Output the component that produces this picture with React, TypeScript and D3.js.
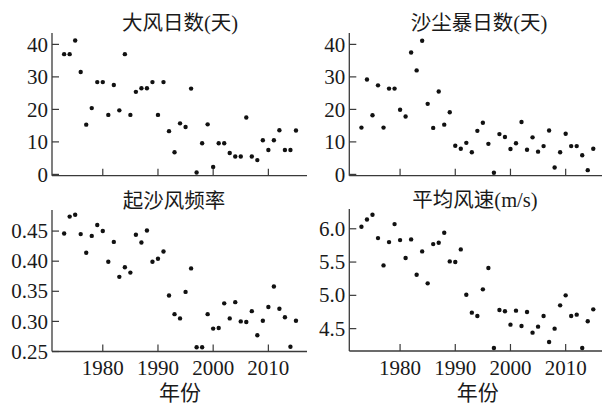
import React from "react";
import * as d3 from "d3";

const years: number[] = d3.range(1973, 2016);

const galeDays: number[] = [
  37, 37, 41.2, 31.5, 15.3, 20.4, 28.4, 28.4, 18.3, 27.5, 19.7, 37, 18.3, 25.4, 26.5, 26.5, 28.4, 18.3, 28.4, 13.3,
  6.8, 15.7, 14.6, 26.4, 0.6, 9.6, 15.4, 2.3, 9.6, 9.6, 6.6, 5.5, 5.5, 17.5, 5.5, 4.4, 10.5, 7.5, 10.5, 13.6,
  7.5, 7.5, 13.5,
];

const dustStormDays: number[] = [
  14.4, 29.2, 18.2, 27.4, 14.4, 26.4, 26.4, 19.9, 17.8, 37.5, 32, 41.1, 21.7, 14.3, 25.5, 15.3, 19.1, 8.8, 7.9, 9.7,
  6.8, 13.4, 15.9, 9.4, 0.5, 12.4, 11.5, 7.8, 9.6, 16.1, 7.6, 11.4, 7, 8.7, 13.5, 2.1, 6.8, 12.5, 8.7, 8.7,
  5.9, 1.3, 7.9,
];

const sandWindFreq: number[] = [
  0.446, 0.474, 0.477, 0.445, 0.414, 0.442, 0.46, 0.45, 0.399, 0.432, 0.374, 0.39, 0.381, 0.444, 0.431, 0.451,
  0.399, 0.404, 0.416, 0.343, 0.312, 0.305, 0.349, 0.388, 0.257, 0.257, 0.312, 0.288, 0.289, 0.33, 0.305, 0.332,
  0.3, 0.299, 0.317, 0.277, 0.301, 0.324, 0.358, 0.321, 0.307, 0.258, 0.301,
];

const meanWindSpeed: number[] = [
  6.03, 6.14, 6.21, 5.86, 5.45, 5.8, 6.07, 5.83, 5.56, 5.84, 5.31, 5.66, 5.18, 5.77, 5.79, 5.94, 5.51, 5.5, 5.69,
  5.01, 4.74, 4.69, 5.09, 5.41, 4.21, 4.78, 4.76, 4.56, 4.77, 4.54, 4.75, 4.44, 4.53, 4.69, 4.3, 4.5, 4.85, 5.0,
  4.69, 4.71, 4.21, 4.61, 4.79,
];

const xTicks: number[] = [1980, 1990, 2000, 2010];
const daysTicks: number[] = [0, 10, 20, 30, 40];
const freqTicks: number[] = [0.25, 0.3, 0.35, 0.4, 0.45];
const speedTicks: number[] = [4.5, 5.0, 5.5, 6.0];

const titles: string[] = ["大风日数(天)", "沙尘暴日数(天)", "起沙风频率", "平均风速(m/s)"];
const xAxisTitle = "年份";

const FONT = "'Liberation Serif', 'Times New Roman', 'Noto Sans CJK SC', serif";
const AXIS = "#3a3a3a";
const TEXT = "#1a1a1a";

type Panel = {
  title: string;
  values: number[];
  ticks: number[];
  fmt: (v: number) => string;
  ox: number;
  y: d3.ScaleLinear<number, number>;
  top: number;
  bottom: number;
  titleX: number;
  titleY: number;
  showX: boolean;
};

export default function App() {
  const x = d3.scaleLinear().domain([1970.8, 2017]).range([52, 307]);
  const RIGHT = 297.3;

  const panels: Panel[] = [
    {
      title: titles[0],
      values: galeDays,
      ticks: daysTicks,
      fmt: d3.format("d"),
      ox: 0,
      y: d3.scaleLinear().domain([-0.4, 43.5]).range([175.7, 33]),
      top: 33,
      bottom: 175.7,
      titleX: 180,
      titleY: 30,
      showX: false,
    },
    {
      title: titles[1],
      values: dustStormDays,
      ticks: daysTicks,
      fmt: d3.format("d"),
      ox: RIGHT,
      y: d3.scaleLinear().domain([-0.4, 43.5]).range([175.7, 33]),
      top: 33,
      bottom: 175.7,
      titleX: 479,
      titleY: 30,
      showX: false,
    },
    {
      title: titles[2],
      values: sandWindFreq,
      ticks: freqTicks,
      fmt: d3.format(".2f"),
      ox: 0,
      y: d3.scaleLinear().domain([0.25, 0.485]).range([351.5, 210]),
      top: 210,
      bottom: 351.5,
      titleX: 174,
      titleY: 208,
      showX: true,
    },
    {
      title: titles[3],
      values: meanWindSpeed,
      ticks: speedTicks,
      fmt: d3.format(".1f"),
      ox: RIGHT,
      y: d3.scaleLinear().domain([4.164, 6.297]).range([351, 209]),
      top: 209,
      bottom: 351,
      titleX: 475,
      titleY: 206.5,
      showX: true,
    },
  ];

  const [x0, x1] = x.range();

  return (
    <svg
      width={602}
      height={405}
      style={{ position: "absolute", left: 0, top: 0, background: "#fff" }}
      fontFamily={FONT}
    >
      <rect width={602} height={405} fill="#fff" />
      {panels.map((p, i) => (
        <g key={i} transform={`translate(${p.ox},0)`}>
          {/* axes */}
          <line x1={x0} x2={x0} y1={p.top} y2={p.bottom} stroke={AXIS} strokeWidth={1.3} />
          <line x1={x0} x2={x1} y1={p.bottom} y2={p.bottom} stroke={AXIS} strokeWidth={1.3} />
          {p.ticks.map((t) => (
            <g key={t}>
              <line x1={x0} x2={x0 + 7} y1={p.y(t)} y2={p.y(t)} stroke={AXIS} strokeWidth={1.2} />
              <text
                x={x0 - 4}
                y={p.y(t)}
                dy="0.34em"
                textAnchor="end"
                fontSize={21}
                fill={TEXT}
              >
                {p.fmt(t)}
              </text>
            </g>
          ))}
          {xTicks.map((t) => (
            <g key={t}>
              <line x1={x(t)} x2={x(t)} y1={p.bottom} y2={p.bottom - 7} stroke={AXIS} strokeWidth={1.2} />
              {p.showX && (
                <text x={x(t)} y={375} textAnchor="middle" fontSize={21} fill={TEXT}>
                  {t}
                </text>
              )}
            </g>
          ))}
          {/* points */}
          {p.values.map((v, j) => (
            <circle key={j} cx={x(years[j])} cy={p.y(v)} r={2.2} fill="#111" />
          ))}
          {/* title */}
          <text x={p.titleX - p.ox} y={p.titleY} textAnchor="middle" fontSize={20.5} fill={TEXT}>
            {p.title}
          </text>
          {p.showX && (
            <text x={(i === 2 ? 180 : 477.7) - p.ox} y={400} textAnchor="middle" fontSize={21} fill={TEXT}>
              {xAxisTitle}
            </text>
          )}
        </g>
      ))}
    </svg>
  );
}
